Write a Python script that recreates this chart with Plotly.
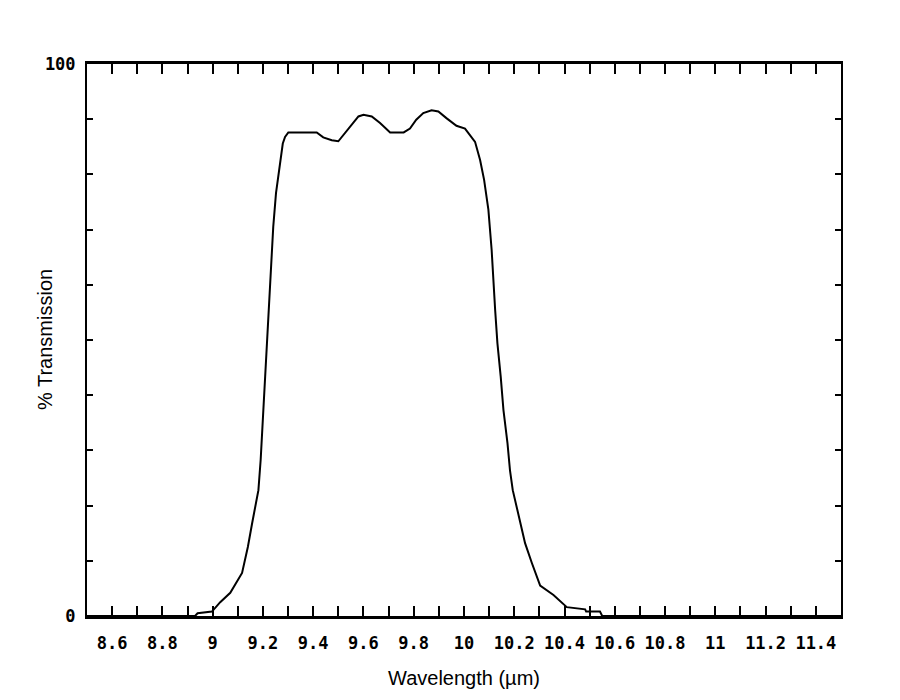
import plotly.graph_objects as go

# Wavelength (µm) and % transmission
wavelength = [8.50, 8.93, 8.94, 8.997, 9.03, 9.07, 9.117, 9.14, 9.157, 9.170,
              9.182, 9.191, 9.202, 9.211, 9.221, 9.231, 9.241, 9.252, 9.265, 9.279,
              9.288, 9.301, 9.36, 9.414, 9.44, 9.474, 9.50, 9.54, 9.58, 9.60,
              9.633, 9.666, 9.706, 9.76, 9.785, 9.81, 9.838, 9.871, 9.898, 9.93,
              9.97, 10.004, 10.024, 10.044, 10.064, 10.08, 10.097, 10.110, 10.124, 10.133,
              10.146, 10.157, 10.173, 10.183, 10.194, 10.203, 10.223, 10.243, 10.27, 10.303,
              10.356, 10.409, 10.482, 10.486, 10.541, 10.55, 11.5]
transmission = [0, 0, 0.5, 0.8, 2.5, 4.2, 7.8, 12.5, 16.8, 20.0,
                22.8, 28.3, 37.3, 46.4, 52.4, 61.5, 70.5, 76.6, 80.8, 85.6,
                86.8, 87.6, 87.6, 87.6, 86.7, 86.2, 86.0, 88.3, 90.5, 90.8,
                90.5, 89.3, 87.6, 87.6, 88.3, 89.9, 91.1, 91.6, 91.4, 90.2,
                88.8, 88.3, 87.1, 85.9, 82.6, 79.0, 73.6, 66.3, 55.4, 49.4,
                43.4, 37.3, 31.3, 26.4, 22.8, 21.0, 16.8, 13.2, 9.6, 5.5,
                3.8, 1.6, 1.2, 0.8, 0.8, 0, 0]

x_tick_vals = [8.6, 8.8, 9.0, 9.2, 9.4, 9.6, 9.8, 10.0, 10.2, 10.4, 10.6, 10.8, 11.0, 11.2, 11.4]
x_tick_text = ["8.6", "8.8", "9", "9.2", "9.4", "9.6", "9.8", "10", "10.2", "10.4",
               "10.6", "10.8", "11", "11.2", "11.4"]
x_minor_vals = [8.7, 8.9, 9.1, 9.3, 9.5, 9.7, 9.9, 10.1, 10.3, 10.5, 10.7, 10.9, 11.1, 11.3]
y_tick_vals = [0, 10, 20, 30, 40, 50, 60, 70, 80, 90, 100]
y_tick_text = ["0", "", "", "", "", "", "", "", "", "", "100"]

fig = go.Figure()
fig.add_trace(go.Scatter(x=wavelength, y=transmission, mode="lines",
                         line=dict(color="black", width=2), showlegend=False))

tick_font = dict(family="DejaVu Sans Mono", size=17, color="black", weight="bold")
title_font = dict(family="Liberation Sans, Arial", size=20, color="black")

fig.update_layout(
    width=900, height=700,
    margin=dict(l=79, r=67, t=56, b=92),
    paper_bgcolor="white", plot_bgcolor="white",
    xaxis=dict(
        range=[8.5, 11.5], tickmode="array", tickvals=x_tick_vals, ticktext=x_tick_text,
        ticks="inside", ticklen=10, tickwidth=2, tickcolor="black",
        minor=dict(tickmode="array", tickvals=x_minor_vals, ticks="inside",
                   ticklen=10, tickwidth=2, tickcolor="black"),
        showline=True, linecolor="black", linewidth=3, mirror="ticks",
        showgrid=False, zeroline=False, tickfont=tick_font, ticklabelstandoff=10,
        title=dict(text="Wavelength (µm)", font=title_font, standoff=19),
    ),
    yaxis=dict(
        range=[0, 100], tickmode="array", tickvals=y_tick_vals, ticktext=y_tick_text,
        ticks="inside", ticklen=6, tickwidth=2, tickcolor="black",
        showline=True, linecolor="black", linewidth=2, mirror="ticks",
        showgrid=False, zeroline=False, tickfont=tick_font, ticklabelstandoff=6,
    ),
    annotations=[dict(
        text="% Transmission", font=title_font, textangle=-90,
        xref="paper", yref="paper", x=0, y=0.5, xanchor="center", yanchor="middle",
        xshift=-42, showarrow=False,
    )],
)

fig.write_html("out.html")
